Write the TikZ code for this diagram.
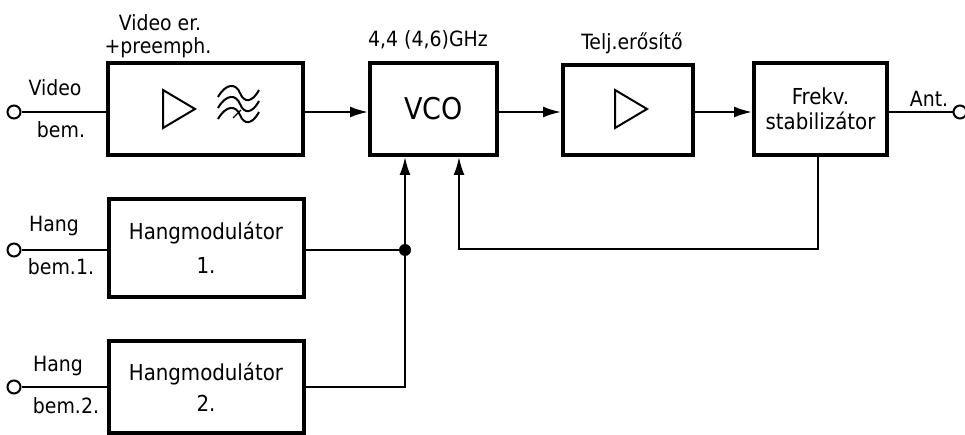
\documentclass[tikz,border=0pt]{standalone}
\usepackage{fontspec}
\setmainfont{DejaVu Sans Condensed}
\usetikzlibrary{arrows.meta,calc}
\tikzset{
  blk/.style={draw, line width=4pt, rectangle, inner sep=0pt, align=center},
  term/.style={draw, circle, line width=2pt, minimum size=13pt, inner sep=0pt, fill=white},
  wire/.style={line width=2pt},
  arr/.style={wire, -{Latex[length=18pt,width=11pt]}},
  lbl/.style={inner sep=0pt, font=\fontsize{21}{24}\selectfont},
  blbl/.style={font=\fontsize{22}{34}\selectfont},
  sym/.style={line width=2pt, line join=miter},
}
\begin{document}
\begin{tikzpicture}[x=1pt,y=-1pt]
\useasboundingbox (0,0) rectangle (965,435);
% blocks
\node[blk, minimum width=195pt, minimum height=92pt] (vid) at (205.5,109) {};
\node[blk, minimum width=127pt, minimum height=92pt, font=\fontsize{30}{30}\selectfont] (vco) at (433.5,109) {VCO};
\node[blk, minimum width=130pt, minimum height=90pt] (telj) at (628,110) {};
\node[blk, minimum width=133pt, minimum height=92pt, font=\fontsize{22}{25}\selectfont] (frek) at (820.5,109) {Frekv.\\stabilizátor};
\node[blk, minimum width=195pt, minimum height=98pt, blbl] (hm1) at (206,248) {Hangmodulátor\\1.};
\node[blk, minimum width=195pt, minimum height=92pt, text depth=0pt, font=\fontsize{22}{31}\selectfont] (hm2) at (206,387) {Hangmodulátor\\2.};
% symbols in boxes
\draw[sym] (163,90) -- (195,109) -- (163,128) -- cycle;
\draw[sym] (615,90) -- (647,109) -- (615,128) -- cycle;
\foreach \dy in {-11,0,11}{
  \draw[sym] (218,108+\dy) .. controls (226,94+\dy) and (236,94+\dy) .. (240,104+\dy)
             .. controls (244,114+\dy) and (252,114+\dy) .. (259,101+\dy);
}
\draw[sym, line width=1.4pt] (233,118) -- (241,110);
% terminals
\node[term] (tin) at (14,112) {};
\node[term] (tout) at (960,112) {};
\node[term] (th1) at (14,250) {};
\node[term] (th2) at (14,387) {};
% junction
\coordinate (jn) at (405,250);
\fill (jn) circle (6pt);
\coordinate (fb) at (459,249);
% connectors
\draw[wire] (tin) -- (vid.west |- tin);
\draw[arr] (vid.east |- tin) -- (vco.west |- tin);
\draw[arr] (vco.east |- tin) -- (telj.west |- tin);
\draw[arr] (telj.east |- tin) -- (frek.west |- tin);
\draw[wire] (frek.east |- tout) -- (tout);
\draw[wire] (th1) -- (hm1.west |- th1);
\draw[wire] (th2) -- (hm2.west |- th2);
\draw[wire] (hm1.east |- jn) -- (jn);
\draw[wire] (hm2.east) -- (hm2.east -| jn) -- (jn);
\draw[arr] (jn) -- (jn |- vco.south);
\draw[arr] (frek.south -| 818,0) -- (818,249) -- (fb) -- (fb |- vco.south);
% labels
\node[lbl] (l1) at (160,23) {Video er.};
\node[lbl] (l2) at (158,48) {+preemph.};
\node[lbl] (l3) at (428,40) {4,4 (4,6)GHz};
\node[lbl] (l4) at (632,43) {Telj.erősítő};
\node[lbl] (l5) at (55,88) {Video};
\node[lbl] (l6) at (61,130) {bem.};
\node[lbl] (l7) at (929,99) {Ant.};
\node[lbl] (l8) at (54,226) {Hang};
\node[lbl] (l9) at (61,267) {bem.1.};
\node[lbl] (l10) at (58,366) {Hang};
\node[lbl] (l11) at (66,406) {bem.2.};
\end{tikzpicture}
\end{document}
